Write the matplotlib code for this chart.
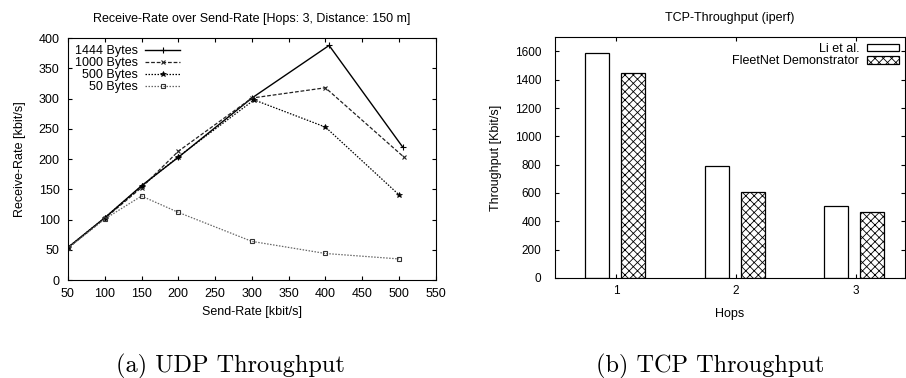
import matplotlib
matplotlib.use("Agg")
import matplotlib.pyplot as plt

plt.rcParams['font.family'] = ['Liberation Sans', 'DejaVu Sans']
plt.rcParams['hatch.linewidth'] = 0.6

# UDP: receive rate over send rate, per packet size
send_1444 = [50, 100, 150, 200, 300, 405, 505]
recv_1444 = [54, 103, 156, 203, 301, 388, 220]
send_1000 = [50, 100, 150, 200, 300, 400, 507]
recv_1000 = [53, 102, 153, 213, 301, 318, 203]
send_500 = [50, 100, 150, 200, 303, 400, 500]
recv_500 = [54, 103, 155, 204, 298, 253, 141]
send_50 = [50, 100, 150, 200, 300, 400, 500]
recv_50 = [53, 101, 139, 112, 64, 44, 35]

# TCP throughput per hop count
hops = [1, 2, 3]
li_et_al = [1590, 790, 510]
fleetnet = [1450, 610, 465]

fig = plt.figure(figsize=(9.06, 3.78), dpi=100)

# ---- left: UDP
ax1 = fig.add_axes([0.075, 0.259, 0.406, 0.640])
ax1.plot(send_1444, recv_1444, color='black', lw=1.0, marker='+', ms=4, mew=0.8, label='1444 Bytes')
ax1.plot(send_1000, recv_1000, color='#222222', lw=0.9, ls=(0, (3, 1.5)), marker='x', ms=3.5, mew=0.8, label='1000 Bytes')
ax1.plot(send_500, recv_500, color='black', lw=0.9, ls=(0, (1.2, 1.2)), marker='*', ms=4, mew=0.5, label='500 Bytes')
ax1.plot(send_50, recv_50, color='#666666', lw=0.9, ls=(0, (1.2, 1.2)), marker='s', ms=3.5, mfc='none', mec='#333333', mew=0.8, label='50 Bytes')
ax1.set_xlim(50, 550)
ax1.set_ylim(0, 400)
ax1.set_xticks(range(50, 551, 50))
ax1.set_yticks(range(0, 401, 50))
ax1.tick_params(direction='in', top=True, right=True, labelsize=9, length=3)
ax1.tick_params(axis='x', pad=6)
ax1.tick_params(axis='y', pad=6)
ax1.set_title('Receive-Rate over Send-Rate [Hops: 3, Distance: 150 m]', fontsize=9, pad=12)
ax1.set_xlabel('Send-Rate [kbit/s]', fontsize=9, labelpad=4)
ax1.set_ylabel('Receive-Rate [kbit/s]', fontsize=9, labelpad=9)
ax1.legend(loc='upper left', frameon=False, markerfirst=False, fontsize=9,
           handlelength=2.8, labelspacing=0.0, borderaxespad=0.25, handletextpad=0.6,
           borderpad=0.3)

# ---- right: TCP
ax2 = fig.add_axes([0.6126, 0.2646, 0.386, 0.637])
w = 0.2
ax2.bar([h - 0.16 for h in hops], li_et_al, width=w, facecolor='white', edgecolor='black', lw=0.9, label='Li et al.')
ax2.bar([h + 0.14 for h in hops], fleetnet, width=w, facecolor='white', edgecolor='black', lw=0.9, hatch='xxxx', label='FleetNet Demonstrator')
ax2.set_xlim(0.49, 3.41)
ax2.set_ylim(0, 1700)
ax2.set_xticks(hops)
ax2.set_yticks(range(0, 1601, 200))
ax2.tick_params(direction='in', top=True, right=True, labelsize=8.5, length=3)
ax2.tick_params(axis='x', pad=5)
ax2.tick_params(axis='y', pad=10)
ax2.set_title('TCP-Throughput (iperf)', fontsize=9, pad=12)
ax2.set_xlabel('Hops', fontsize=9, labelpad=8)
ax2.set_ylabel('Throughput [Kbit/s]', fontsize=9, labelpad=9)
ax2.legend(loc='upper right', frameon=False, markerfirst=False, fontsize=9,
           handlelength=2.6, handleheight=0.5, labelspacing=0.05, borderaxespad=0.15,
           handletextpad=0.6, borderpad=0.3)

# captions
fig.text(0.254, 0.016, '(a) UDP Throughput', ha='center', va='baseline', fontsize=17.5, family='cmr10')
fig.text(0.784, 0.016, '(b) TCP Throughput', ha='center', va='baseline', fontsize=17.5, family='cmr10')

fig.savefig('out.png', dpi=100)
